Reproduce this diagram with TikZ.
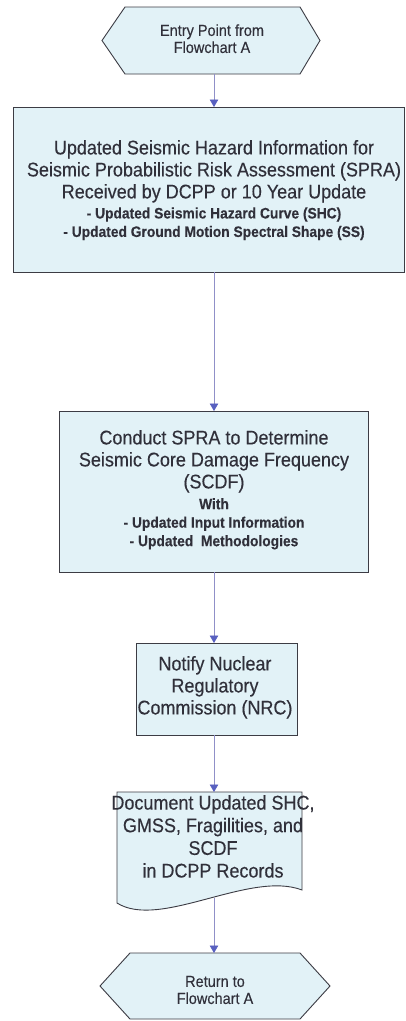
\documentclass[tikz,border=0pt]{standalone}
\usepackage{graphicx}
\usepackage{fontspec}
\setmainfont{Liberation Sans}[FakeBold=0.25]
\usetikzlibrary{arrows.meta,backgrounds}
\definecolor{boxfill}{HTML}{E2F2F7}
\definecolor{boxline}{HTML}{3C3C44}
\definecolor{flowline}{HTML}{9090C8}
\definecolor{flowhead}{HTML}{5860C0}
\definecolor{ink}{HTML}{30303A}

% centred lines of text, set a little taller than wide
\newcommand\tallText[1]{\scalebox{1}[1.1]{\begin{tabular}{@{}c@{}}#1\end{tabular}}}

\begin{document}
\begin{tikzpicture}[x=1pt,y=-1pt,
  shell/.style={draw=boxline, fill=boxfill, line width=0.9pt},
  frame/.style={inner sep=0pt, outer sep=0pt},
  bigtext/.style={text=ink, inner sep=0pt, font=\fontsize{18}{20}\selectfont},
  smalltext/.style={text=ink, inner sep=0pt, font=\fontsize{13.8}{16.8}\selectfont\bfseries},
  hextext/.style={text=ink, inner sep=0pt, font=\fontsize{14.5}{15.5}\selectfont},
  flow/.style={draw=flowline, line width=0.7pt, -{Triangle[length=7.5pt,width=8.5pt,color=flowhead,fill=flowhead]}}]

\useasboundingbox (0,0) rectangle (405,1021);

\coordinate (axis) at (214,0);

% entry terminator
\node[frame, minimum width=175pt, minimum height=67pt] (entry) at (212.5,40.5) {};
\node[hextext] (entrytext) at (212,41) {\tallText{Entry Point from\\Flowchart A}};

% hazard information received
\node[frame, shell, minimum width=391pt, minimum height=165pt] (hazard) at (208.5,189.5) {};
\node[bigtext] (hazardtitle) at (214,172) {\tallText{Updated Seismic Hazard Information for\\Seismic Probabilistic Risk Assessment (SPRA)\\Received by DCPP or 10 Year Update}};
\node[smalltext] (hazardlist) at (214,224) {\tallText{- Updated Seismic Hazard Curve (SHC)\\- Updated Ground Motion Spectral Shape (SS)}};

% conduct SPRA
\node[frame, shell, minimum width=309pt, minimum height=161pt] (spra) at (213.5,491.5) {};
\node[bigtext] (spratitle) at (214,462) {\tallText{Conduct SPRA to Determine\\Seismic Core Damage Frequency\\(SCDF)}};
\node[smalltext] (spralist) at (214,524) {\tallText{With\\- Updated Input Information\\- Updated\ \ Methodologies}};

% notify NRC
\node[frame, shell, minimum width=161pt, minimum height=92pt] (nrc) at (216.5,689) {};
\node[bigtext] (nrctext) at (215,688) {\tallText{Notify Nuclear\\Regulatory\\Commission (NRC)}};

% document records
\node[frame, minimum width=185pt, minimum height=111pt] (record) at (209.5,847.5) {};
\node[bigtext, font=\fontsize{18}{20.6}\selectfont] (recordtext) at (213,839) {\tallText{Document Updated SHC,\\GMSS, Fragilities, and\\SCDF\\in DCPP Records}};
\coordinate (wave) at (214,897.5);

% return terminator
\node[frame, minimum width=170pt, minimum height=66pt] (exit) at (215,986) {};
\node[hextext] (exittext) at (215,992) {\tallText{Return to\\Flowchart A}};

\begin{pgfonlayer}{background}
  \fill[white] (0,0) rectangle (405,1021);
  \path[shell] (entry.north west) -- (entry.north east) -- ([xshift=20pt]entry.east)
    -- (entry.south east) -- (entry.south west) -- ([xshift=-23pt]entry.west) -- cycle;
  \path[shell] (record.north west) -- (record.north east) -- ([yshift=13pt]record.south east)
    .. controls ([xshift=-52pt,yshift=33pt]record.south east) and ([xshift=43pt,yshift=-27pt]record.south west)
    .. (record.south west) -- cycle;
  \path[shell] (exit.north west) -- (exit.north east) -- ([xshift=30pt]exit.east)
    -- (exit.south east) -- (exit.south west) -- ([xshift=-30pt]exit.west) -- cycle;
\end{pgfonlayer}

% connectors
\draw[flow] (entry.south -| axis) -- (hazard.north -| axis);
\draw[flow] (hazard.south -| axis) -- (spra.north -| axis);
\draw[flow] (spra.south -| axis) -- (nrc.north -| axis);
\draw[flow] (nrc.south -| axis) -- (record.north -| axis);
\draw[flow] (wave) -- (exit.north -| axis);
\end{tikzpicture}
\end{document}
